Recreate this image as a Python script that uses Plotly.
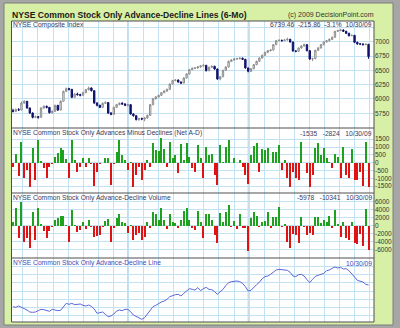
import plotly.graph_objects as go

# ---------------- data ----------------
close_ = [5784,5813,5807,5930,5959,5842,5755,5679,5691,5679,
          5842,5871,5854,5761,5784,5889,5807,5959,6133,6180,
          6168,6029,6087,6075,6064,6110,6162,6192,6145,5930,
          5889,5854,5924,5936,5755,5732,5854,5901,5924,5912,
          5889,5901,5738,5708,5639,5656,5650,5668,5714,5901,
          6005,6034,6064,6110,6139,6168,6261,6320,6331,6296,
          6279,6366,6436,6512,6535,6541,6558,6576,6587,6494,
          6552,6570,6523,6349,6389,6500,6558,6657,6680,6698,
          6704,6710,6692,6541,6483,6529,6599,6657,6715,6762,
          6814,6843,6855,6948,7018,7024,7018,7030,7041,6995,
          6838,6832,6890,6925,6948,6843,6698,6704,6849,6890,
          6948,6995,7018,7041,7076,7181,7193,7204,7181,7146,
          7105,7111,6989,6960,6960,6948,6955.32,6739.46]
open_ = [5800,5784,5813,5807,5930,5959,5842,5755,5679,5691,
         5679,5842,5871,5854,5761,5784,5889,5807,5959,6133,
         6180,6168,6029,6087,6075,6064,6110,6162,6192,6145,
         5930,5889,5854,5924,5936,5755,5732,5854,5901,5924,
         5912,5889,5901,5738,5708,5639,5656,5650,5668,5714,
         5901,6005,6034,6064,6110,6139,6168,6261,6320,6331,
         6296,6279,6366,6436,6512,6535,6541,6558,6576,6587,
         6494,6552,6570,6523,6349,6389,6500,6558,6657,6680,
         6698,6704,6710,6692,6541,6483,6529,6599,6657,6715,
         6762,6814,6843,6855,6948,7018,7024,7018,7030,7041,
         6995,6838,6832,6890,6925,6948,6843,6698,6704,6849,
         6890,6948,6995,7018,7041,7076,7181,7193,7204,7181,
         7146,7105,7111,6989,6960,6960,6948,6955]
high_ = [5830,5835,5840,5955,5975,5965,5850,5765,5710,5705,
         5855,5890,5885,5860,5800,5900,5895,5975,6145,6200,
         6195,6175,6100,6110,6090,6125,6175,6215,6200,6150,
         5945,5900,5940,5960,5945,5770,5865,5915,5940,5945,
         5925,5915,5905,5750,5715,5670,5675,5680,5725,5910,
         6015,6050,6075,6120,6150,6180,6270,6335,6345,6340,
         6305,6380,6450,6525,6550,6555,6575,6590,6605,6595,
         6565,6585,6580,6530,6400,6510,6570,6670,6695,6715,
         6720,6730,6725,6700,6550,6540,6610,6670,6725,6775,
         6825,6855,6870,6960,7030,7040,7035,7045,7070,7050,
         7000,6850,6900,6940,6965,6955,6850,6720,6860,6905,
         6960,7005,7030,7055,7090,7190,7210,7225,7215,7190,
         7155,7125,7115,7000,6975,6970,6970,6960]
low_ = [5765,5770,5790,5800,5915,5830,5740,5660,5665,5655,
        5675,5830,5835,5745,5740,5775,5790,5800,5950,6120,
        6150,6015,6020,6060,6045,6055,6100,6150,6130,5915,
        5870,5840,5845,5910,5740,5715,5725,5840,5890,5900,
        5875,5870,5725,5690,5625,5620,5630,5610,5655,5705,
        5890,5990,6020,6050,6100,6125,6160,6250,6310,6285,
        6260,6270,6355,6425,6500,6520,6530,6545,6565,6480,
        6485,6540,6510,6335,6325,6380,6490,6550,6645,6670,
        6685,6690,6680,6530,6465,6470,6520,6590,6645,6705,
        6750,6800,6830,6845,6940,7005,7000,7010,7020,6985,
        6825,6815,6820,6880,6915,6830,6680,6660,6695,6840,
        6880,6935,6985,7005,7030,7070,7170,7185,7170,7135,
        7090,7095,6975,6945,6940,6935,6940,6700]
net_ad = [-255,530,-830,1340,-1000,-470,-1530,915,-1100,1450,
          100,-320,-1000,-255,-105,380,600,960,810,215,
          -960,1450,170,-575,-255,320,-255,320,-105,-1490,
          -575,-105,-40,320,320,-1425,-105,700,1450,490,
          170,-470,60,-1530,-790,-255,-1100,-470,170,-255,
          1235,810,750,1600,870,-255,1340,280,490,-680,
          1170,170,1235,340,-320,-575,1130,320,-1000,1020,
          490,530,-790,-1425,1130,60,1020,1450,-40,320,
          -40,170,-255,-790,-1380,520,1085,1235,-575,870,
          810,960,-40,660,660,1130,-470,170,-1000,-1530,
          -575,-960,-1100,1340,-40,-680,-1530,-790,915,1235,
          490,915,280,60,-360,530,380,-960,1020,-790,
          -1000,870,-1100,-1100,-575,-1490,1340,-1535]
ad_volume = [1000,4300,-3000,5800,-4150,-3150,-5460,3300,-3560,4470,
             330,-1320,-2980,-1320,-400,1400,2000,2500,2500,200,
             -4000,3900,200,-1500,-1100,1000,-800,1400,-300,-2700,
             -2500,-2300,-400,1200,1650,-4000,-500,2000,2800,1000,
             600,-1900,200,-3560,-2300,-1900,-3560,-2700,1000,-500,
             3300,2800,1500,4470,1400,-800,3000,1000,600,-500,
             1400,3600,4470,1400,-500,-1100,3600,1000,-3000,2800,
             2800,1500,-2300,-4400,3050,1000,3300,5130,-300,1150,
             -800,2800,-500,-660,-6300,2000,3300,2500,-300,800,
             1150,3300,-500,2200,2200,4700,-250,330,-4000,-5460,
             -2000,-2300,-4400,2200,-250,-2300,-1900,-2300,2200,2200,
             600,1400,1000,2500,-500,3900,500,-2700,1000,-3000,
             -3560,1000,-4400,-4650,-2000,-4970,4150,-5978]
ad_line = [2203,2040,2366,2122,1714,1387,898,816,898,1224,
           1550,1469,1306,1061,1550,1387,1224,1306,2040,3019,
           2774,3019,2693,2856,2856,2530,2366,2611,2285,1632,
           571,734,898,326,-245,-82,408,1142,1387,1224,
           1550,1550,979,163,-245,-571,-898,-490,408,1550,
           2203,2530,3019,3346,3590,3998,4651,4978,5141,5222,
           4814,5467,6120,6610,6446,6283,6854,6120,6610,6936,
           6446,6365,5875,5222,5875,6446,7344,8078,8323,8405,
           8486,8323,7915,7099,6038,6202,7018,7589,8160,9058,
           9547,9710,10118,10690,11179,11342,11261,11179,11098,10608,
           9710,9547,10037,10118,9710,8813,8078,8894,9629,9874,
           10037,10363,11016,11179,11587,11914,11669,11832,11424,11506,
           11016,10363,9466,8650,8486,8242,7670,7507]
month_marks = [41, 84]          # darker vertical grid lines (Jul 1, Sep 1)

price_ticks = [5750, 6000, 6250, 6500, 6750, 7000, 7250]
price_labels = ["5750", "6000", "6250", "6500", "6750", "7000", ""]
nad_ticks = [-1500, -1000, -500, 0, 500, 1000, 1500]
vol_ticks = [-6000, -4000, -2000, 0, 2000, 4000, 6000]
line_ticks = [0, 2000, 4000, 6000, 8000, 10000, 12000]

for arr in (open_, high_, low_, net_ad, ad_volume, ad_line):
    assert len(arr) == len(close_), len(arr)

days = list(range(len(close_)))

# ---------------- layout helpers ----------------
W, H = 400, 328
def fx(p): return p / W
def fy(p): return 1 - p / H

X0, X1 = 11.5, 374
panels = [(21, 128), (128, 193), (193, 258), (258, 322)]
GRID = "#c2e2f4"
GREEN_BG = "#d7f0a6"
FONT = "Liberation Sans, Arial, sans-serif"
TXT = "#3a3a60"

fig = go.Figure()
fig.add_trace(go.Candlestick(
    x=days, open=open_, high=high_, low=low_, close=close_,
    increasing=dict(line=dict(color="#8c8c8c", width=1), fillcolor="#ffffff"),
    decreasing=dict(line=dict(color="#12126c", width=1), fillcolor="#12126c"),
    whiskerwidth=0, xaxis="x", yaxis="y", showlegend=False, hoverinfo="skip"))
fig.add_trace(go.Bar(
    x=days, y=net_ad, width=0.7,
    marker=dict(color=["#1ea21e" if v >= 0 else "#e01212" for v in net_ad], line=dict(width=0)),
    xaxis="x2", yaxis="y2", showlegend=False, hoverinfo="skip"))
fig.add_trace(go.Bar(
    x=days, y=ad_volume, width=0.7,
    marker=dict(color=["#1ea21e" if v >= 0 else "#e01212" for v in ad_volume], line=dict(width=0)),
    xaxis="x3", yaxis="y3", showlegend=False, hoverinfo="skip"))
fig.add_trace(go.Scatter(
    x=days, y=ad_line, mode="lines", line=dict(color="#5a68d8", width=1),
    xaxis="x4", yaxis="y4", showlegend=False, hoverinfo="skip"))

xcommon = dict(domain=[fx(X0), fx(X1)], range=[-0.55, 128.95], showticklabels=False,
               showgrid=True, gridcolor=GRID, gridwidth=1, tick0=3.5, dtick=5.39,
               ticks="", zeroline=False, showline=False, fixedrange=True, automargin=False)
ycommon = dict(side="right", showgrid=True, gridcolor=GRID, gridwidth=1, ticks="",
               zeroline=False, showline=False, fixedrange=True, automargin=False,
               tickfont=dict(family=FONT, size=6.5, color="#333333"), tickmode="array")

layout = dict(
    width=W, height=H, margin=dict(l=0, r=0, t=0, b=0),
    paper_bgcolor="#a6a6a6", plot_bgcolor="rgba(0,0,0,0)",
    font=dict(family=FONT), bargap=0, showlegend=False,
)
ranges = [[5493, 7361], [-1933, 2214], [-8023, 8123], [-1550, 14117]]
tickv = [price_ticks, nad_ticks, vol_ticks, line_ticks]
tickt = [price_labels, [str(v) for v in nad_ticks], [str(v) for v in vol_ticks], ["" for v in line_ticks]]
for k in range(4):
    sfx = "" if k == 0 else str(k + 1)
    xa = dict(xcommon)
    if k == 0:
        xa["rangeslider"] = dict(visible=False)
    xa["anchor"] = "y" + sfx
    layout["xaxis" + sfx] = xa
    ya = dict(ycommon)
    top, bot = panels[k]
    ya.update(domain=[fy(bot), fy(top)], range=ranges[k], anchor="x" + sfx,
              tickvals=tickv[k], ticktext=tickt[k])
    layout["yaxis" + sfx] = ya
fig.update_layout(**layout)

shapes = [
    dict(type="rect", xref="paper", yref="paper", x0=fx(4), x1=fx(393), y0=fy(325), y1=fy(3),
         fillcolor=GREEN_BG, line=dict(color="#7c7c7c", width=1), layer="below"),
    dict(type="rect", xref="paper", yref="paper", x0=fx(X0), x1=fx(X1), y0=fy(322), y1=fy(21),
         fillcolor="#ffffff", line=dict(width=0), layer="below"),
]
for m in month_marks:
    shapes.append(dict(type="line", xref="x", yref="paper", x0=m, x1=m, y0=fy(322), y1=fy(21),
                       line=dict(color="#accfe4", width=1), layer="below"))
shapes.append(dict(type="rect", xref="paper", yref="paper", x0=fx(X0), x1=fx(X1), y0=fy(322), y1=fy(21),
                   line=dict(color="#4e4e4e", width=1), layer="above"))
for _, b in panels[:-1]:
    shapes.append(dict(type="line", xref="paper", yref="paper", x0=fx(X0), x1=fx(X1), y0=fy(b), y1=fy(b),
                       line=dict(color="#4e4e4e", width=1), layer="above"))
fig.update_layout(shapes=shapes)

def ann(text, x, y, anchor, size=6.7, color=TXT):
    return dict(text=text, x=fx(x), y=fy(y), xref="paper", yref="paper", xanchor=anchor,
                yanchor="middle", showarrow=False, font=dict(family=FONT, size=size, color=color),
                borderpad=0)

annotations = [
    ann("<b>NYSE Common Stock Only Advance-Decline Lines (6-Mo)</b>", 11, 15, "left", 8.6, "#1a1a1a"),
    ann("(c) 2009 DecisionPoint.com", 375, 15.5, "right", 7, "#333333"),
    ann("NYSE Composite Index", 12, 24.5, "left"),
    ann("6739.46  -215.86  -3.1%  10/30/09", 373, 24.5, "right"),
    ann("NYSE Common Stock Only Advances Minus Declines (Net A-D)", 12, 133, "left"),
    ann("-1535   -2824   10/30/09", 373, 133, "right"),
    ann("NYSE Common Stock Only Advance-Decline Volume", 12, 197.5, "left"),
    ann("-5978   -10341   10/30/09", 373, 197.5, "right"),
    ann("NYSE Common Stock Only Advance-Decline Line", 12, 263, "left", 6.7, "#4a4ab4"),
    ann("10/30/09", 373, 263, "right", 6.7, "#4a4ab4"),
]
fig.update_layout(annotations=annotations)

fig.write_html("out.html", config={"displayModeBar": False, "staticPlot": True})
